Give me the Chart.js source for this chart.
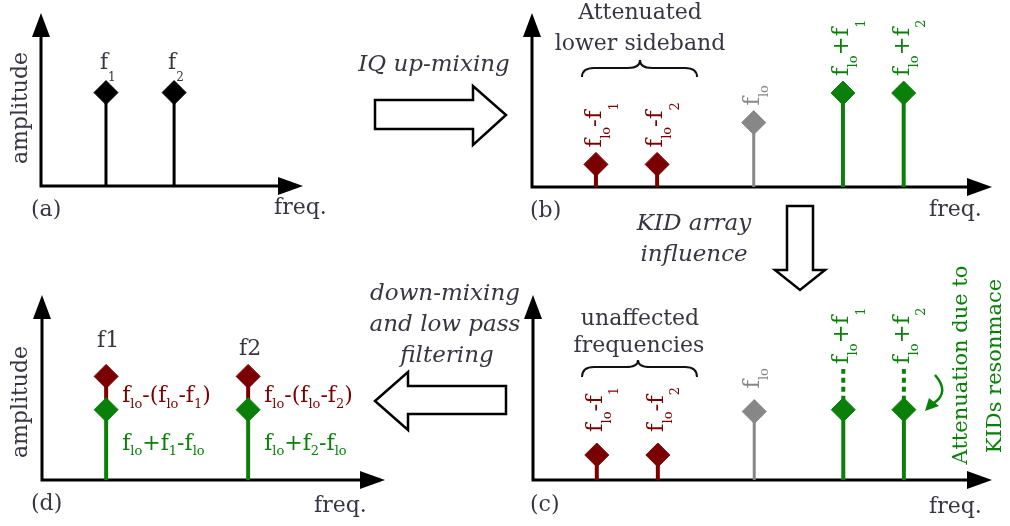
<!DOCTYPE html>
<html>
<head>
<meta charset="utf-8">
<script src="https://cdn.jsdelivr.net/npm/chart.js@4.4.1/dist/chart.umd.min.js"></script>
<style>
  html, body { margin: 0; background: #fff; }
  #wrap { position: relative; width: 1010px; height: 526px; }
  #wrap canvas { position: absolute; left: 0; top: 0; }
</style>
</head>
<body>
<div id="wrap">
  <canvas id="panelA" width="1010" height="526"></canvas>
  <canvas id="panelB" width="1010" height="526"></canvas>
  <canvas id="panelC" width="1010" height="526"></canvas>
  <canvas id="panelD" width="1010" height="526"></canvas>
</div>
<script>
const RED = "#7a0000", GREEN = "#0a800a", GRAY = "#878787", INK = "#363642";
const SERIF = '"DejaVu Serif", serif';

// (a) the two input tones
const inFreqs = [2.48, 5.08];
const inAmps = [0.54, 0.54];
const inLabels = ["f_{1}", "f_{2}"];

// (b) and (c): spectrum after IQ up-mixing
const mixFreqs = [1.39, 2.72, 4.82, 6.76, 8.08];
const mixKinds = ["lower", "lower", "lo", "upper", "upper"];
const mixLabels = ["f_{lo}-f_{1}", "f_{lo}-f_{2}", "f_{lo}", "f_{lo}+f_{1}", "f_{lo}+f_{2}"];
const ampsB = [0.13, 0.13, 0.37, 0.54, 0.54];
const ampsC = [0.135, 0.135, 0.37, 0.38, 0.38];
const lostC = [null, null, null, 0.6, 0.6]; // level before the KID resonances

// (d) after down-mixing and low pass filtering
const outFreqs = [1.87, 6.01];
const outLabels = ["f1", "f2"];
const outLowerAmps = [0.56, 0.56];
const outUpperAmps = [0.38, 0.38];
const outLowerText = ["f_{lo}-(f_{lo}-f_{1})", "f_{lo}-(f_{lo}-f_{2})"];
const outUpperText = ["f_{lo}+f_{1}-f_{lo}", "f_{lo}+f_{2}-f_{lo}"];

const kindColor = { lower: RED, lo: GRAY, upper: GREEN };

// text with f_{lo} style subscripts
function richText(ctx, str, x, y, size, opt = {}) {
  const style = opt.italic ? "italic " : "";
  const subSize = Math.round(size * (opt.subScale || 0.62));
  const runs = [];
  str.split(/(_\{[^}]*\})/).forEach(p => {
    if (!p) return;
    if (p.startsWith("_{")) runs.push({ t: p.slice(2, -1), sub: true });
    else runs.push({ t: p, sub: false });
  });
  let total = 0;
  runs.forEach(r => {
    ctx.font = style + (r.sub ? subSize : size) + "px " + SERIF;
    r.w = ctx.measureText(r.t).width;
    total += r.w;
  });
  let cx = opt.align === "center" ? x - total / 2 : x;
  ctx.textAlign = "left";
  ctx.textBaseline = "alphabetic";
  ctx.fillStyle = opt.color || INK;
  runs.forEach(r => {
    let dy = 0;
    if (r.sub) dy = size * (/^\d+$/.test(r.t) ? (opt.numDrop ?? opt.drop ?? 0.25) : (opt.drop ?? 0.25));
    ctx.font = style + (r.sub ? subSize : size) + "px " + SERIF;
    ctx.fillText(r.t, cx, y + dy);
    cx += r.w;
  });
}

function rotText(ctx, str, x, y, size, opt) {
  ctx.save();
  ctx.translate(x, y);
  ctx.rotate(-Math.PI / 2);
  richText(ctx, str, 0, 0, size, opt);
  ctx.restore();
}

function stem(x, y0, y1, color, width, marker = true, dash = []) {
  return {
    data: [{ x: x, y: y0 }, { x: x, y: y1 }],
    borderColor: color,
    borderWidth: width,
    borderDash: dash,
    pointStyle: "rectRot",
    pointRadius: marker ? [0, 12] : 0,
    pointBackgroundColor: color,
    pointBorderColor: color,
    pointBorderWidth: 1,
    clip: false
  };
}

const axesPlugin = {
  id: "arrowAxes",
  beforeDatasetsDraw(chart) {
    const { ctx, chartArea: a } = chart;
    ctx.save();
    ctx.strokeStyle = "#000";
    ctx.fillStyle = "#000";
    ctx.lineWidth = 3;
    ctx.lineJoin = "miter";
    ctx.beginPath();
    ctx.moveTo(a.left, a.top + 20);
    ctx.lineTo(a.left, a.bottom);
    ctx.lineTo(a.right - 20, a.bottom);
    ctx.stroke();
    ctx.beginPath();
    ctx.moveTo(a.left, a.top);
    ctx.lineTo(a.left - 9, a.top + 24);
    ctx.lineTo(a.left + 9, a.top + 24);
    ctx.fill();
    ctx.beginPath();
    ctx.moveTo(a.right, a.bottom);
    ctx.lineTo(a.right - 25, a.bottom - 9);
    ctx.lineTo(a.right - 25, a.bottom + 9);
    ctx.fill();
    ctx.restore();
  }
};

function hollowArrow(ctx, pts) {
  ctx.beginPath();
  pts.forEach((p, i) => (i ? ctx.lineTo(p[0], p[1]) : ctx.moveTo(p[0], p[1])));
  ctx.closePath();
  ctx.fillStyle = "#fff";
  ctx.fill();
  ctx.lineWidth = 2.5;
  ctx.strokeStyle = "#000";
  ctx.lineJoin = "miter";
  ctx.stroke();
}

function brace(ctx, x1, x2, yEnd, yMid, yTip, xTip) {
  ctx.beginPath();
  ctx.moveTo(x1, yEnd);
  ctx.quadraticCurveTo(x1, yMid, x1 + 12, yMid);
  ctx.lineTo(xTip - 12, yMid);
  ctx.quadraticCurveTo(xTip, yMid, xTip, yTip);
  ctx.quadraticCurveTo(xTip, yMid, xTip + 12, yMid);
  ctx.lineTo(x2 - 12, yMid);
  ctx.quadraticCurveTo(x2, yMid, x2, yEnd);
  ctx.lineWidth = 2;
  ctx.strokeStyle = "#111";
  ctx.stroke();
}

function makePanel(id, area, datasets, notes) {
  return new Chart(document.getElementById(id), {
    type: "line",
    data: { datasets: datasets },
    options: {
      responsive: false,
      animation: false,
      events: [],
      layout: { padding: { left: area.left, top: area.top, right: 1010 - area.right, bottom: 526 - area.bottom } },
      scales: {
        x: { type: "linear", min: 0, max: 10, display: false },
        y: { type: "linear", min: 0, max: 1, display: false }
      },
      plugins: { legend: { display: false }, tooltip: { enabled: false } }
    },
    plugins: [axesPlugin, { id: id + "Notes", afterDatasetsDraw: notes }]
  });
}

const T = 22; // body text size

// (a)
makePanel("panelA", { left: 41, right: 303, top: 5, bottom: 186 },
  inFreqs.map((f, i) => stem(f, 0, inAmps[i], "#000", 3)),
  chart => {
    const { ctx, scales: { x, y } } = chart;
    inFreqs.forEach((f, i) => {
      richText(ctx, inLabels[i], x.getPixelForValue(f) - 6, y.getPixelForValue(inAmps[i]) - 24, T,
        { drop: 0.55, subScale: 0.55 });
    });
    rotText(ctx, "amplitude", 27, 108, T, { align: "center" });
    richText(ctx, "(a)", 31, 216, T);
    richText(ctx, "freq.", 274, 214, T);
  });

// (b)
const stemLabelOpt = { drop: 0.4, numDrop: 0.72, subScale: 0.58 };
makePanel("panelB", { left: 532, right: 992, top: 4, bottom: 187 },
  mixFreqs.map((f, i) => stem(f, 0, ampsB[i], kindColor[mixKinds[i]], mixKinds[i] === "lo" ? 3 : 4)),
  chart => {
    const { ctx, scales: { x, y } } = chart;
    mixFreqs.forEach((f, i) => {
      rotText(ctx, mixLabels[i], x.getPixelForValue(f) + 5, y.getPixelForValue(ampsB[i]) - 17, 23,
        Object.assign({ color: kindColor[mixKinds[i]] }, stemLabelOpt));
    });
    richText(ctx, "Attenuated", 640, 19, T, { align: "center" });
    richText(ctx, "lower sideband", 640, 50, T, { align: "center" });
    brace(ctx, 582, 697, 77, 68, 60, 640);
    richText(ctx, "(b)", 530, 217, T);
    richText(ctx, "freq.", 929, 216, T);
  });

// (c)
const datasetsC = mixFreqs.map((f, i) => stem(f, 0, ampsC[i], kindColor[mixKinds[i]], mixKinds[i] === "lo" ? 3 : 4));
mixFreqs.forEach((f, i) => {
  if (lostC[i] !== null) datasetsC.push(stem(f, ampsC[i], lostC[i], GREEN, 4, false, [5, 4]));
});
makePanel("panelC", { left: 533, right: 992, top: 295, bottom: 480 }, datasetsC,
  chart => {
    const { ctx, scales: { x, y } } = chart;
    mixFreqs.forEach((f, i) => {
      const top = lostC[i] !== null ? y.getPixelForValue(lostC[i]) - 5 : y.getPixelForValue(ampsC[i]) - 23;
      rotText(ctx, mixLabels[i], x.getPixelForValue(f) + 5, top, 23,
        Object.assign({ color: kindColor[mixKinds[i]] }, stemLabelOpt));
    });
    richText(ctx, "unaffected", 640, 325, T, { align: "center" });
    richText(ctx, "frequencies", 639, 352, T, { align: "center" });
    brace(ctx, 582, 697, 377, 367, 360, 638);
    // curved arrow pointing at the attenuated tone
    ctx.strokeStyle = GREEN;
    ctx.fillStyle = GREEN;
    ctx.lineWidth = 2.5;
    ctx.beginPath();
    ctx.moveTo(935, 375);
    ctx.quadraticCurveTo(950, 392, 934, 403);
    ctx.stroke();
    ctx.beginPath();
    ctx.moveTo(925, 411);
    ctx.lineTo(929, 398);
    ctx.lineTo(939, 406);
    ctx.closePath();
    ctx.fill();
    rotText(ctx, "Attenuation due to", 967, 365, 21, { align: "center", color: GREEN });
    rotText(ctx, "KIDs resonmace", 1001, 366, 21, { align: "center", color: GREEN });
    richText(ctx, "(c)", 530, 511, T);
    richText(ctx, "freq.", 929, 513, T);
  });

// (d) plus the arrows between the panels
const datasetsD = [];
outFreqs.forEach((f, i) => datasetsD.push(stem(f, 0, outUpperAmps[i], GREEN, 4)));
outFreqs.forEach((f, i) => datasetsD.push(stem(f, outUpperAmps[i], outLowerAmps[i], RED, 4)));
makePanel("panelD", { left: 42, right: 385, top: 295, bottom: 480 }, datasetsD,
  chart => {
    const { ctx, scales: { x, y } } = chart;
    const lift = [29, 21];
    outFreqs.forEach((f, i) => {
      const px = x.getPixelForValue(f);
      const pr = y.getPixelForValue(outLowerAmps[i]);
      const pg = y.getPixelForValue(outUpperAmps[i]);
      richText(ctx, outLabels[i], px + 2, pr - lift[i], T, { align: "center" });
      richText(ctx, outLowerText[i], px + 16, pr + 26, T, { color: RED, drop: 0.25, subScale: 0.6 });
      richText(ctx, outUpperText[i], px + 16, pg + 40, T, { color: GREEN, drop: 0.25, subScale: 0.6 });
    });
    rotText(ctx, "amplitude", 27, 402, T, { align: "center" });
    richText(ctx, "(d)", 31, 510, T);
    richText(ctx, "freq.", 314, 512, T);

    hollowArrow(ctx, [[375, 100], [473, 100], [473, 86], [506, 115], [473, 145], [473, 129], [375, 129]]);
    hollowArrow(ctx, [[787, 206], [813, 206], [813, 270], [825, 270], [800, 290], [775, 270], [787, 270]]);
    hollowArrow(ctx, [[506, 386], [408, 386], [408, 372], [375, 401], [408, 430], [408, 414], [506, 414]]);
    richText(ctx, "IQ up-mixing", 434, 71, 23, { align: "center", italic: true });
    richText(ctx, "KID array", 694, 230, 23, { align: "center", italic: true });
    richText(ctx, "influence", 694, 261, 23, { align: "center", italic: true });
    richText(ctx, "down-mixing", 445, 300, 23, { align: "center", italic: true });
    richText(ctx, "and low pass", 445, 331, 23, { align: "center", italic: true });
    richText(ctx, "filtering", 447, 362, 23, { align: "center", italic: true });
  });
</script>
</body>
</html>
